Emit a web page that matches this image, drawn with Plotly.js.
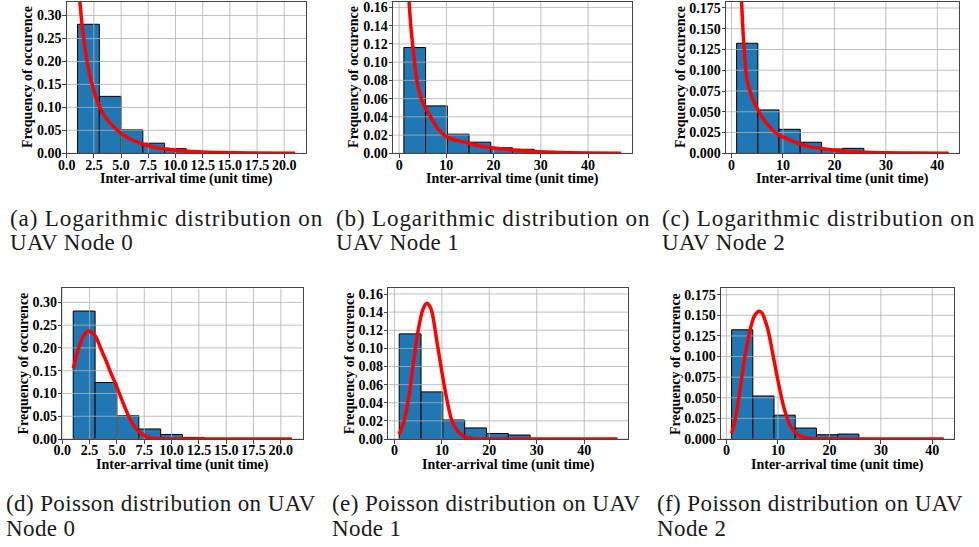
<!DOCTYPE html>
<html><head><meta charset="utf-8">
<script src="https://cdn.plot.ly/plotly-3.0.1.min.js"></script>
<style>
html,body{margin:0;padding:0;background:#fff;} #chart{width:979px;height:547px;}
text.annotation-text[style*="23px"]{letter-spacing:0.4px;}
text.annotation-text[style*="23.1px"]{letter-spacing:0.85px;}
</style>
</head><body><div id="chart"></div>
<script>
// ---------- histogram data (bin edges + density heights) ----------
const edgesNode0 = [1,3,5,7,9,11,13,15,17,19,21];
const histNode0  = [0.281,0.124,0.051,0.022,0.010,0.0035,0.0008,0.0003,0,0.0003];
const edgesNode1 = [1,5.6,10.2,14.8,19.4,24,28.6,33.2,37.8,42.4,47];
const histNode1  = [0.116,0.052,0.021,0.0122,0.0061,0.0044,0.0006,0.0002,0,0.0002];
const edgesNode2 = [1,5.12,9.24,13.36,17.48,21.6,25.72,29.84,33.96,38.08,42.2];
const histNode2  = [0.1325,0.0522,0.0289,0.0133,0.0052,0.006,0.0008,0.0002,0,0.0002];

// ---------- fitted curves ----------
const logX0 = [1,1.25,1.5,2,2.5,3,3.5,4,5,6,7,8,9,10,12,14,17,21];
const logY0 = [0.40,0.32,0.262,0.184,0.136,0.102,0.081,0.0657,0.0436,0.0294,0.020,0.0139,0.0097,0.0067,0.0033,0.0016,0.0006,0.0002];
const logX1 = [1,1.5,2,2.5,3,3.5,4,5,6,7,8,9,10,12,14,17,20,24,28,34,40,47];
const logY1 = [0.34,0.23,0.175,0.138,0.112,0.089,0.073,0.0555,0.046,0.037,0.0285,0.0225,0.018,0.0145,0.012,0.008,0.0058,0.0036,0.0022,0.0008,0.0003,0.0001];
const logX2 = [1,1.5,2,2.5,3,3.5,4,5,6,7,8,9,10,11.4,13,15.25,17.5,19.8,23,26.3,30,35,42.2];
const logY2 = [0.42,0.27,0.178,0.122,0.089,0.077,0.067,0.054,0.043,0.035,0.028,0.023,0.0195,0.016,0.012,0.008,0.0057,0.004,0.0022,0.0012,0.0006,0.0003,0.0001];

const poiX0 = [1,1.5,2,2.4,3,3.5,4,4.5,5,5.5,6,6.5,7,7.5,8,9,10,12,15,21];
const poiY0 = [0.155,0.200,0.229,0.237,0.227,0.200,0.172,0.142,0.114,0.083,0.054,0.031,0.016,0.008,0.003,0.0006,0.0001,0,0,0];
const poiX1 = [1,2,3,4,5,6,6.8,7.5,8,9,10,11,12,13,14,15,16,18,20,25,30,47];
const poiY1 = [0.005,0.019,0.046,0.084,0.12,0.143,0.1498,0.146,0.138,0.106,0.074,0.045,0.022,0.011,0.0055,0.0022,0.0008,0.0001,0,0,0,0];
const poiX2 = [1,1.5,2,2.5,3,3.5,4,4.5,5,5.5,6.37,7,7.5,8,8.5,9,9.5,10,10.5,11,11.7,12.5,13.6,14.5,16.2,18,20,30,42.2];
const poiY2 = [0.007,0.018,0.034,0.054,0.076,0.097,0.114,0.130,0.142,0.150,0.155,0.152,0.144,0.134,0.12,0.103,0.087,0.071,0.056,0.042,0.027,0.015,0.0069,0.0035,0.001,0.0002,0,0,0];

// ---------- ticks ----------
const ticksX0 = [0,2.5,5,7.5,10,12.5,15,17.5,20];
const ticksX12 = [0,10,20,30,40];
const ticksY0 = [0,0.05,0.10,0.15,0.20,0.25,0.30];
const ticksY1 = [0,0.02,0.04,0.06,0.08,0.10,0.12,0.14,0.16];
const ticksY2 = [0,0.025,0.05,0.075,0.10,0.125,0.15,0.175];

const captions = [
  ["(a) Logarithmic distribution on","UAV Node 0"],
  ["(b) Logarithmic distribution on","UAV Node 1"],
  ["(c) Logarithmic distribution on","UAV Node 2"],
  ["(d) Poisson distribution on UAV","Node 0"],
  ["(e) Poisson distribution on UAV","Node 1"],
  ["(f) Poisson distribution on UAV","Node 2"]
];
const xTitle = "Inter-arrival time (unit time)";
const yTitle = "Frequency of occurence";

// ---------- layout geometry (pixels) ----------
const W = 979, H = 547;
const panels = [
  {box:[66.7,306,1.5,153.3], xr:[0,22], yr:[0,0.3306], e:edgesNode0, h:histNode0, cx:logX0, cy:logY0, xt:ticksX0, yt:ticksY0, xf:'.1f', yf:'.2f', yt_x:27.5, cap:[7.5,218,242.6], wide:true},
  {box:[393,632,1.5,153.3], xr:[-1.3,49.3], yr:[0,0.1665], e:edgesNode1, h:histNode1, cx:logX1, cy:logY1, xt:ticksX12, yt:ticksY1, xf:'d', yf:'.2f', yt_x:353.5, cap:[334,218,242.6], wide:true},
  {box:[726,959.3,1.5,153.3], xr:[-1.06,44.26], yr:[0,0.1828], e:edgesNode2, h:histNode2, cx:logX2, cy:logY2, xt:ticksX12, yt:ticksY2, xf:'d', yf:'.3f', yt_x:680.5, cap:[660,218,242.6], wide:true},
  {box:[62.3,302.7,288.3,439], xr:[0,22], yr:[0,0.331], e:edgesNode0, h:histNode0, cx:poiX0, cy:poiY0, xt:ticksX0, yt:ticksY0, xf:'.1f', yf:'.2f', yt_x:23.8, cap:[4,503.7,528.3], wide:false},
  {box:[388.3,628.3,288.3,439], xr:[-1.3,49.3], yr:[0,0.1663], e:edgesNode1, h:histNode1, cx:poiX1, cy:poiY1, xt:ticksX12, yt:ticksY1, xf:'d', yf:'.2f', yt_x:349.7, cap:[330,503.7,528.3], wide:false},
  {box:[721,954.3,288.3,439], xr:[-1.06,44.26], yr:[0,0.1828], e:edgesNode2, h:histNode2, cx:poiX2, cy:poiY2, xt:ticksX12, yt:ticksY2, xf:'d', yf:'.3f', yt_x:675.3, cap:[654.5,503.7,528.3], wide:false}
];

const tickFont = {family:'"Liberation Serif", "Times New Roman", serif', size:14, color:'#000', weight:700};
const capFont = {family:'"Liberation Serif", "Times New Roman", serif', size:23, color:'#1a1a1a'};
const capFontWide = {family:'"Liberation Serif", "Times New Roman", serif', size:23.1, color:'#1a1a1a'};
const spine = '#444';

const data = [];
const layout = {
  width:W, height:H, margin:{l:0,r:0,t:0,b:0}, paper_bgcolor:'#fff', plot_bgcolor:'#fff',
  showlegend:false, annotations:[]
};

panels.forEach((p, i) => {
  const n = i + 1;
  const xa = 'x' + (n === 1 ? '' : n), ya = 'y' + (n === 1 ? '' : n);
  const xk = 'xaxis' + (n === 1 ? '' : n), yk = 'yaxis' + (n === 1 ? '' : n);
  const centers = [], widths = [];
  for (let k = 0; k < p.h.length; k++) { centers.push((p.e[k] + p.e[k+1]) / 2); widths.push(p.e[k+1] - p.e[k]); }
  data.push({type:'bar', x:centers, y:p.h, width:widths, xaxis:xa, yaxis:ya,
    marker:{color:'#1f77b4', line:{color:'#000', width:1}}, hoverinfo:'skip'});
  // grid lines drawn over the bars (as matplotlib does), from the tick arrays
  const gx = [], gy = [];
  p.xt.forEach(t => { gx.push(t, t, null); gy.push(p.yr[0], p.yr[1], null); });
  p.yt.forEach(t => { gx.push(p.xr[0], p.xr[1], null); gy.push(t, t, null); });
  data.push({type:'scatter', mode:'lines', x:gx, y:gy, xaxis:xa, yaxis:ya,
    line:{color:'rgba(176,176,176,0.8)', width:1}, hoverinfo:'skip'});
  data.push({type:'scatter', mode:'lines', x:p.cx, y:p.cy, xaxis:xa, yaxis:ya,
    line:{color:'#ff0000', width:3.5, shape:'spline', smoothing:0.8}, hoverinfo:'skip'});

  const [l, r, t, b] = p.box;
  layout[xk] = {domain:[l/W, r/W], range:p.xr, anchor:ya, tickmode:'array', tickvals:p.xt, tickformat:p.xf,
    showgrid:false, zeroline:false, showline:true, mirror:true, linecolor:spine, linewidth:1,
    ticks:'outside', ticklen:3.5, tickwidth:1, tickcolor:spine, tickfont:tickFont, ticklabelstandoff:-5, fixedrange:true};
  layout[yk] = {domain:[1 - b/H, 1 - t/H], range:p.yr, anchor:xa, tickmode:'array', tickvals:p.yt, tickformat:p.yf,
    showgrid:false, zeroline:false, showline:true, mirror:true, linecolor:spine, linewidth:1,
    ticks:'outside', ticklen:3.5, tickwidth:1, tickcolor:spine, tickfont:tickFont, ticklabelstandoff:-2, fixedrange:true};

  // axis titles
  layout.annotations.push({xref:'paper', yref:'paper', x:(l + r) / 2 / W, y:1 - (b + 25.7) / H,
    xanchor:'center', yanchor:'middle', text:xTitle, showarrow:false, font:tickFont});
  layout.annotations.push({xref:'paper', yref:'paper', x:p.yt_x / W, y:1 - (t + b) / 2 / H,
    xanchor:'center', yanchor:'middle', text:yTitle, textangle:-90, showarrow:false, font:tickFont});
  // captions
  layout.annotations.push({xref:'paper', yref:'paper', x:p.cap[0] / W, y:1 - p.cap[1] / H,
    xanchor:'left', yanchor:'middle', text:captions[i][0], showarrow:false, font:p.wide ? capFontWide : capFont});
  layout.annotations.push({xref:'paper', yref:'paper', x:p.cap[0] / W, y:1 - p.cap[2] / H,
    xanchor:'left', yanchor:'middle', text:captions[i][1], showarrow:false, font:capFont});
});

Plotly.newPlot('chart', data, layout, {displayModeBar:false, staticPlot:true});
</script>
</body></html>
